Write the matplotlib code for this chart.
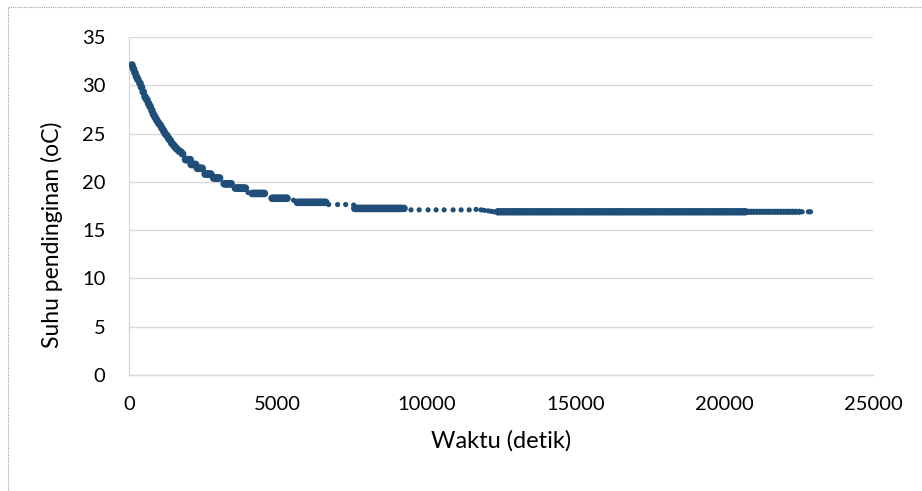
import matplotlib
matplotlib.use("Agg")
import matplotlib.pyplot as plt
from matplotlib.lines import Line2D

# ---- data ----
t_decay = [100, 150, 200, 250, 300, 370, 420, 480, 540, 600, 660, 710, 770, 820, 875,
           930, 990, 1045, 1100, 1160, 1215, 1270, 1330, 1385, 1440, 1500, 1550, 1610,
           1680, 1740, 1800]
T_decay = [32.1, 31.7, 31.3, 30.9, 30.6, 30.2, 29.8, 29.3, 28.8, 28.5, 28.1, 27.8, 27.4,
           27.0, 26.7, 26.4, 26.1, 25.9, 25.6, 25.3, 25.0, 24.8, 24.5, 24.3, 24.0, 23.8,
           23.6, 23.4, 23.2, 23.1, 22.9]

plateau_levels = [22.3, 21.8, 21.4, 20.8, 20.4, 19.8, 19.35, 18.8, 18.3, 17.88, 17.25]
plateau_times = [
    [1900, 1940, 1980, 2020, 2055],
    [2090, 2130, 2170, 2210, 2240],
    [2300, 2340, 2380, 2420, 2460],
    [2560, 2600, 2640, 2680, 2720, 2750],
    [2845, 2885, 2925, 2965, 3005, 3045],
    [3200, 3240, 3280, 3320, 3360, 3400, 3430],
    [3575, 3620, 3660, 3700, 3740, 3780, 3820, 3860, 3910],
    [4140, 4190, 4240, 4290, 4340, 4390, 4440, 4490, 4550],
    [4810, 4860, 4910, 4960, 5010, 5060, 5110, 5160, 5210, 5260, 5310],
    [5660, 5720, 5780, 5840, 5900, 5960, 6020, 6080, 6140, 6200, 6260, 6320, 6380,
     6440, 6500, 6560, 6610],
    [7590, 7650, 7710, 7770, 7830, 7890, 7950, 8010, 8070, 8130, 8190, 8250, 8310,
     8370, 8430, 8490, 8550, 8610, 8670, 8730, 8790, 8850, 8910, 8970, 9030, 9090,
     9150, 9240],
]

final_level = 16.9
final_times = [12400, 12500, 12600, 12700, 12800, 12900, 13000, 13100, 13200, 13300,
               13400, 13500, 13600, 13700, 13800, 13900, 14000, 14100, 14200, 14300,
               14400, 14500, 14600, 14700, 14800, 14900, 15000, 15100, 15200, 15300,
               15400, 15500, 15600, 15700, 15800, 15900, 16000, 16100, 16200, 16300,
               16400, 16500, 16600, 16700, 16800, 16900, 17000, 17100, 17200, 17300,
               17400, 17500, 17600, 17700, 17800, 17900, 18000, 18100, 18200, 18300,
               18400, 18500, 18600, 18700, 18800, 18900, 19000, 19100, 19200, 19300,
               19400, 19500, 19600, 19700, 19800, 19900, 20000, 20100, 20200, 20300,
               20400, 20500, 20600, 20700]
tail_times = [20800, 20900, 21000, 21100, 21200, 21300, 21400, 21500, 21600, 21700,
              21800, 21900, 22000, 22100, 22200, 22300, 22400, 22520]

t_sparse = [4000, 5530, 6710, 7010, 7280, 7550, 9475, 9750, 10050, 10320, 10590, 10890,
            11160, 11430, 11665, 11830, 11940, 12070, 12170, 12270, 22620, 22830, 22900]
T_sparse = [18.9, 18.1, 17.65, 17.65, 17.65, 17.6, 17.1, 17.1, 17.1, 17.1, 17.1, 17.1,
            17.1, 17.1, 17.15, 17.1, 17.05, 17.0, 16.95, 16.9, 16.9, 16.9, 16.9]

x_ticks = [0, 5000, 10000, 15000, 20000, 25000]
y_ticks = [0, 5, 10, 15, 20, 25, 30, 35]
x_label = "Waktu (detik)"
y_label = "Suhu pendinginan (oC)"

# ---- assemble dense parts ----
xs = list(t_decay)
ys = list(T_decay)
for lv, ts in zip(plateau_levels, plateau_times):
    xs += ts
    ys += [lv] * len(ts)
xs += final_times
ys += [final_level] * len(final_times)

plt.rcParams['font.family'] = ['Lato', 'DejaVu Sans']
fig = plt.figure(figsize=(9.22, 4.91), dpi=100)
ax = fig.add_axes([129 / 922, 1 - 375 / 491, (873 - 129) / 922, (375 - 37) / 491])

color = '#1f4e79'
ax.scatter(xs, ys, s=30, color=color, edgecolors='none', zorder=3)
ax.scatter(tail_times, [final_level] * len(tail_times), s=20, color=color,
           edgecolors='none', zorder=3)
ax.scatter(t_sparse, T_sparse, s=14, color=color, edgecolors='none', zorder=3)

ax.set_xlim(0, 25000)
ax.set_ylim(0, 35)
ax.set_xticks(x_ticks)
ax.set_yticks(y_ticks)
ax.set_xticklabels([str(v) for v in x_ticks])
ax.set_yticklabels([str(v) for v in y_ticks])
ax.tick_params(length=0, labelsize=14.5, colors='#000000')
ax.tick_params(axis='y', pad=17)
ax.tick_params(axis='x', pad=15)
ax.yaxis.grid(True, color='#d9d9d9', linewidth=1.0)
ax.set_axisbelow(True)
for side in ['top', 'right']:
    ax.spines[side].set_visible(False)
for side in ['left', 'bottom']:
    ax.spines[side].set_color('#d9d9d9')
    ax.spines[side].set_linewidth(1.0)

fig.text(501 / 922, 1 - 441 / 491, x_label, fontsize=17, ha='center', va='center')
fig.text(52 / 922, 1 - 235 / 491, y_label, fontsize=16.5, ha='center', va='center',
         rotation=90)

# dotted chart-area border (top and left visible)
fig.add_artist(Line2D([8 / 922, 1], [1 - 7 / 491, 1 - 7 / 491], transform=fig.transFigure,
                      color='#a0a0a0', linewidth=0.8, linestyle=(0, (1, 1))))
fig.add_artist(Line2D([8 / 922, 8 / 922], [0, 1 - 7 / 491], transform=fig.transFigure,
                      color='#a0a0a0', linewidth=0.8, linestyle=(0, (1, 1))))

fig.savefig('out.png', dpi=100)
